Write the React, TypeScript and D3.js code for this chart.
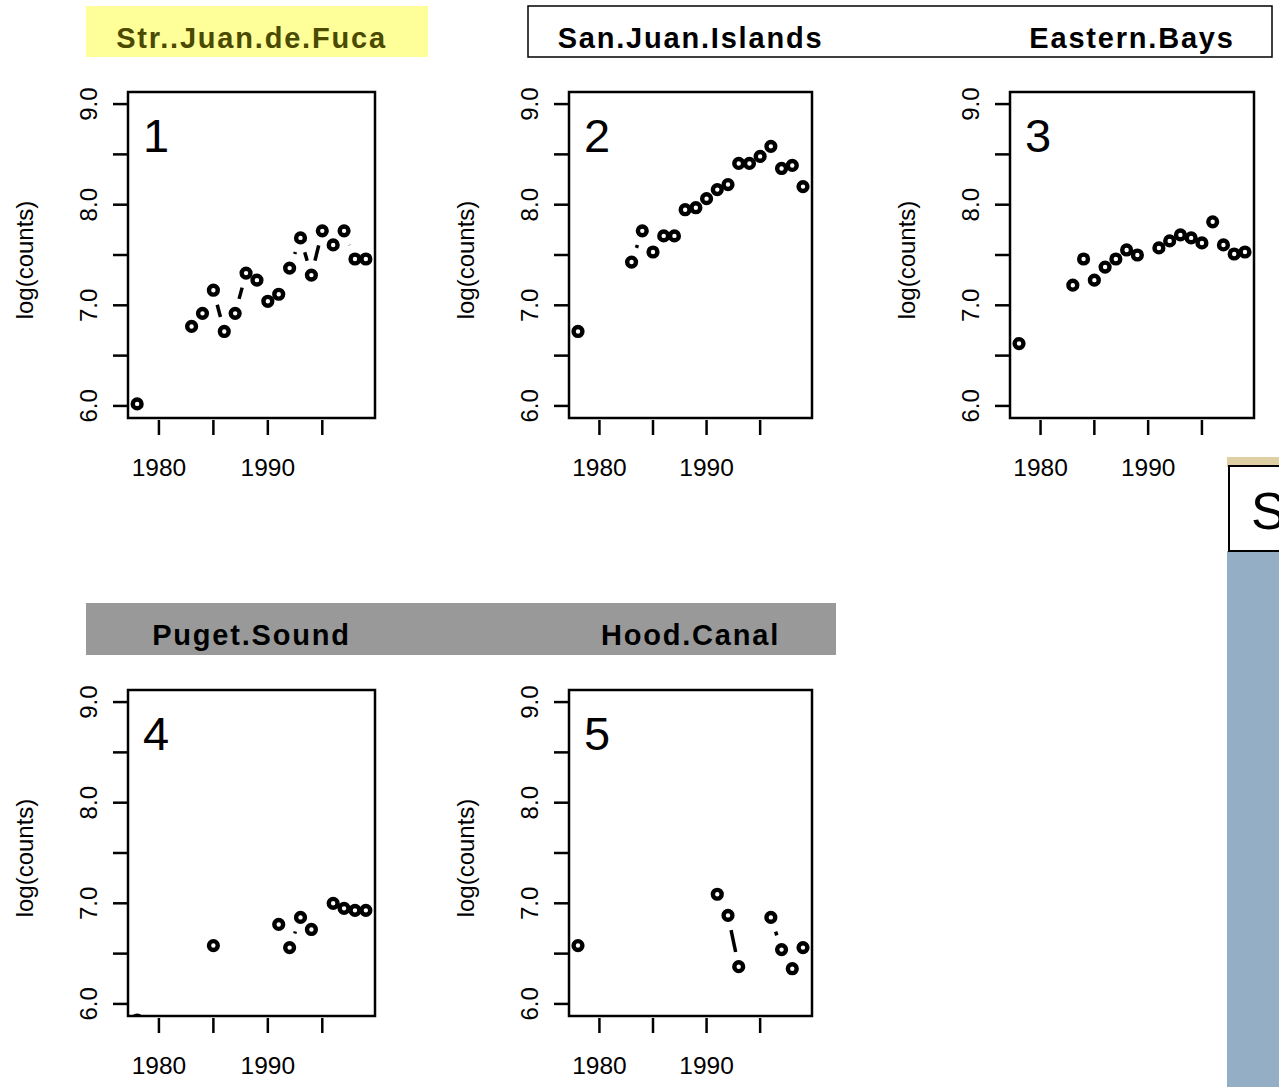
import React from "react";
import * as d3 from "d3";

const sjdfYears = [1978, 1983, 1984, 1985, 1986, 1987, 1988, 1989, 1990, 1991, 1992, 1993, 1994, 1995, 1996, 1997, 1998, 1999];
const sjdfVals = [6.02, 6.79, 6.92, 7.15, 6.74, 6.92, 7.32, 7.25, 7.04, 7.11, 7.37, 7.67, 7.3, 7.74, 7.6, 7.74, 7.46, 7.46];

const sjiYears = [1978, 1983, 1984, 1985, 1986, 1987, 1988, 1989, 1990, 1991, 1992, 1993, 1994, 1995, 1996, 1997, 1998, 1999];
const sjiVals = [6.74, 7.43, 7.74, 7.53, 7.69, 7.69, 7.95, 7.97, 8.06, 8.15, 8.2, 8.41, 8.41, 8.48, 8.58, 8.36, 8.39, 8.18];

const ebYears = [1978, 1983, 1984, 1985, 1986, 1987, 1988, 1989, 1991, 1992, 1993, 1994, 1995, 1996, 1997, 1998, 1999];
const ebVals = [6.62, 7.2, 7.46, 7.25, 7.38, 7.46, 7.55, 7.5, 7.57, 7.64, 7.7, 7.67, 7.62, 7.83, 7.6, 7.51, 7.53];

const psYears = [1978, 1985, 1991, 1992, 1993, 1994, 1996, 1997, 1998, 1999];
const psVals = [5.84, 6.58, 6.79, 6.56, 6.86, 6.74, 7.0, 6.95, 6.93, 6.93];

const hcYears = [1978, 1991, 1992, 1993, 1996, 1997, 1998, 1999];
const hcVals = [6.58, 7.09, 6.88, 6.37, 6.86, 6.54, 6.35, 6.56];

const panelNumbers = ["1", "2", "3", "4", "5"];
const xTicks = [1980, 1985, 1990, 1995];
const xTickLabels = ["1980", "", "1990", ""];
const yTicks = [6, 6.5, 7, 7.5, 8, 8.5, 9];
const yTickLabels = ["6.0", "", "7.0", "", "8.0", "", "9.0"];
const yTitle = "log(counts)";

const FONT = "'Liberation Sans', Arial, Helvetica, sans-serif";

type PanelDef = { left: number; top: number; width: number; years: number[]; vals: number[]; label: string };

const panels: PanelDef[] = [
  { left: 128, top: 92, width: 247, years: sjdfYears, vals: sjdfVals, label: panelNumbers[0] },
  { left: 569, top: 92, width: 243, years: sjiYears, vals: sjiVals, label: panelNumbers[1] },
  { left: 1010, top: 92, width: 244, years: ebYears, vals: ebVals, label: panelNumbers[2] },
  { left: 128, top: 690, width: 247, years: psYears, vals: psVals, label: panelNumbers[3] },
  { left: 569, top: 690, width: 243, years: hcYears, vals: hcVals, label: panelNumbers[4] },
];

const PH = 326;
const GAP = 15;

function Panel({ p, idx }: { p: PanelDef; idx: number }) {
  const x = d3.scaleLinear().domain([1977.16, 1999.84]).range([p.left, p.left + p.width]);
  const y = d3.scaleLinear().domain([5.88, 9.12]).range([p.top + PH, p.top]);
  const pts = p.years.map((yr, i) => ({ yr, px: x(yr), py: y(p.vals[i]) }));
  const segs: { x1: number; y1: number; x2: number; y2: number }[] = [];
  for (let i = 0; i < pts.length - 1; i++) {
    const a = pts[i], b = pts[i + 1];
    if (b.yr - a.yr !== 1) continue;
    const dx = b.px - a.px, dy = b.py - a.py;
    const d = Math.hypot(dx, dy);
    if (d <= 2 * GAP) continue;
    const ux = dx / d, uy = dy / d;
    segs.push({ x1: a.px + ux * GAP, y1: a.py + uy * GAP, x2: b.px - ux * GAP, y2: b.py - uy * GAP });
  }
  const bottom = p.top + PH;
  const clipId = `clip${idx}`;
  return (
    <g>
      <defs>
        <clipPath id={clipId}>
          <rect x={p.left} y={p.top} width={p.width} height={PH} />
        </clipPath>
      </defs>
      <g clipPath={`url(#${clipId})`}>
        {segs.map((s, i) => (
          <line key={i} x1={s.x1} y1={s.y1} x2={s.x2} y2={s.y2} stroke="#000" strokeWidth={3.5} />
        ))}
        {pts.map((q, i) => (
          <circle key={i} cx={q.px} cy={q.py} r={4.4} fill="none" stroke="#000" strokeWidth={4.4} />
        ))}
      </g>
      <rect x={p.left} y={p.top} width={p.width} height={PH} fill="none" stroke="#000" strokeWidth={2.5} />
      {xTicks.map((t, i) => (
        <g key={t}>
          <line x1={x(t)} x2={x(t)} y1={bottom + 2} y2={bottom + 17} stroke="#000" strokeWidth={2.5} />
          {xTickLabels[i] && (
            <text x={x(t)} y={bottom + 58} textAnchor="middle" fontFamily={FONT} fontSize={24.5} fill="#000">
              {xTickLabels[i]}
            </text>
          )}
        </g>
      ))}
      {yTicks.map((t, i) => (
        <g key={t}>
          <line x1={p.left - 15} x2={p.left} y1={y(t)} y2={y(t)} stroke="#000" strokeWidth={2.5} />
          {yTickLabels[i] && (
            <text
              transform={`translate(${p.left - 31},${y(t)}) rotate(-90)`}
              textAnchor="middle"
              fontFamily={FONT}
              fontSize={24}
              fill="#000"
            >
              {yTickLabels[i]}
            </text>
          )}
        </g>
      ))}
      <text
        transform={`translate(${p.left - 95},${p.top + PH / 2 + 5}) rotate(-90)`}
        textAnchor="middle"
        fontFamily={FONT}
        fontSize={24}
        fill="#000"
      >
        {yTitle}
      </text>
      <text x={p.left + 15} y={p.top + 60} fontFamily={FONT} fontSize={47} fill="#000">
        {p.label}
      </text>
    </g>
  );
}

export default function App() {
  const stripFont = { fontFamily: FONT, fontSize: 29, fontWeight: 700, letterSpacing: 1.8 } as const;
  return (
    <svg width={1279} height={1087} style={{ position: "absolute", left: 0, top: 0, background: "#fff" }}>
      <rect x={0} y={0} width={1279} height={1087} fill="#fff" />
      <rect x={86} y={6} width={342} height={51} fill="#FFFF99" />
      <text x={251.5} y={48} textAnchor="middle" fill="#4a4a00" {...stripFont}>Str..Juan.de.Fuca</text>
      <rect x={528} y={6} width={744} height={51} fill="#fff" stroke="#000" strokeWidth={1.5} />
      <text x={690.5} y={48} textAnchor="middle" fill="#000" {...stripFont}>San.Juan.Islands</text>
      <text x={1132} y={48} textAnchor="middle" fill="#000" {...stripFont}>Eastern.Bays</text>
      <rect x={86} y={603} width={750} height={52} fill="#999999" />
      <text x={251.5} y={645} textAnchor="middle" fill="#000" {...stripFont}>Puget.Sound</text>
      <text x={690.5} y={645} textAnchor="middle" fill="#000" {...stripFont}>Hood.Canal</text>
      {panels.map((p, i) => (
        <Panel key={i} p={p} idx={i} />
      ))}
      <rect x={1227} y={457} width={52} height={10} fill="#DED0A3" />
      <rect x={1227} y={551} width={52} height={536} fill="#94AEC6" />
      <rect x={1229} y={466} width={60} height={85} fill="#fff" stroke="#000" strokeWidth={2} />
      <text x={1251} y={529} fontFamily={FONT} fontSize={52} fill="#000">S</text>
    </svg>
  );
}
